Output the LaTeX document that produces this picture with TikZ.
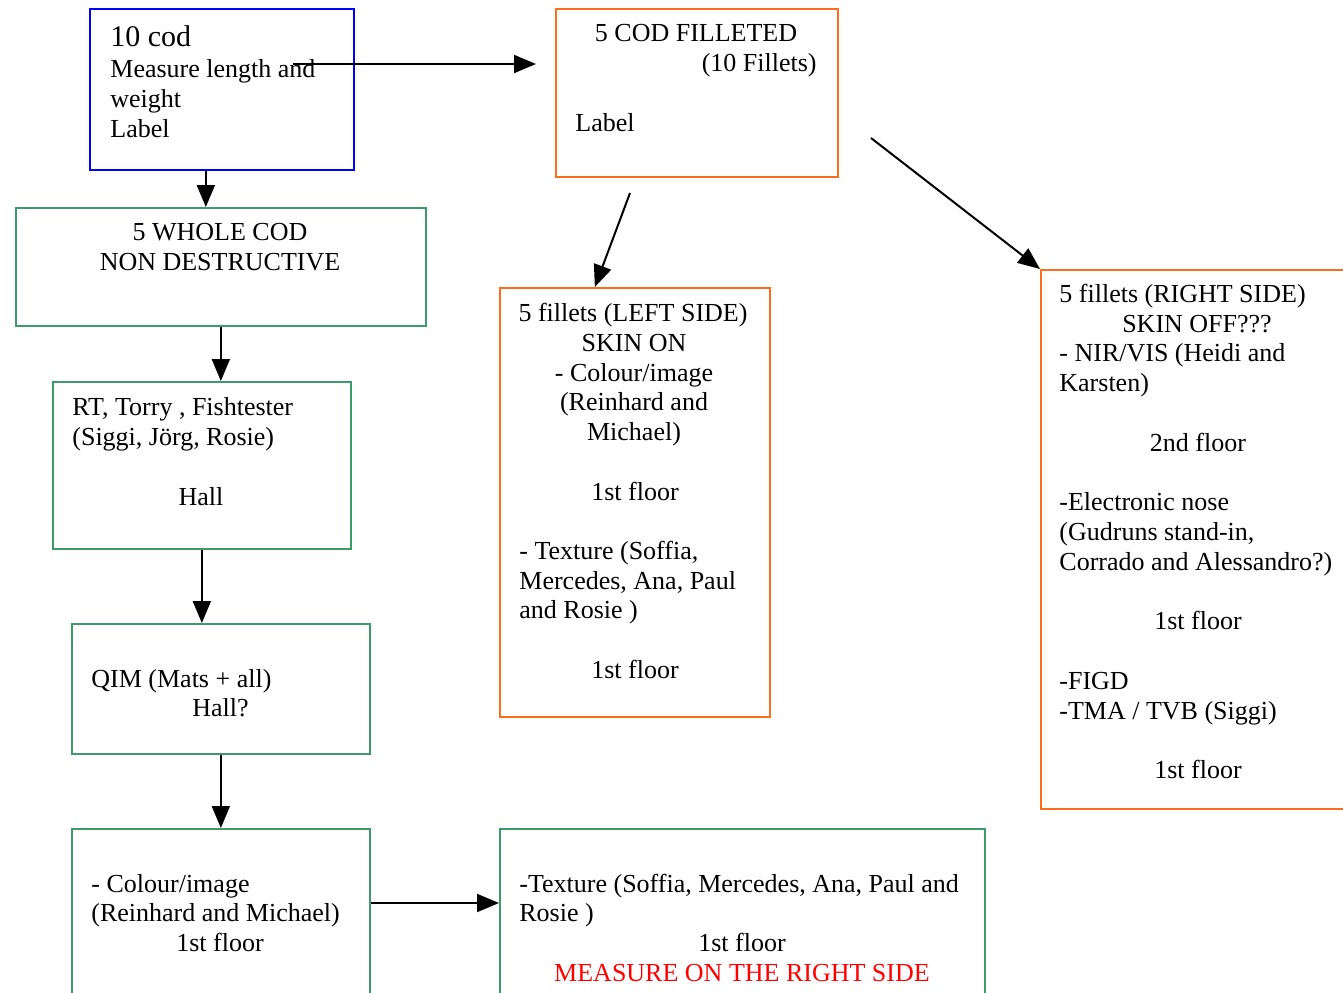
\documentclass[tikz,border=0pt]{standalone}
\usepackage{fontspec}
\setmainfont{Liberation Serif}
\usetikzlibrary{arrows.meta,calc}
\definecolor{boxblue}{RGB}{0,0,255}
\definecolor{boxorange}{RGB}{250,110,30}
\definecolor{boxgreen}{RGB}{60,155,105}
\definecolor{txtred}{RGB}{255,0,0}
\tikzset{
  box/.style={draw, line width=0.85pt, inner sep=0pt, anchor=north west},
  arr/.style={line width=1pt, -{Triangle[length=11pt,width=9pt]}},
  tl/.style={inner sep=0pt, anchor=base west, font=\fontsize{13}{15}\selectfont},
  tc/.style={inner sep=0pt, anchor=base, font=\fontsize{13}{15}\selectfont},
  tr/.style={inner sep=0pt, anchor=base east, font=\fontsize{13}{15}\selectfont}
}
\begin{document}
\begin{tikzpicture}[x=0.5pt,y=-0.5pt]
\useasboundingbox[fill=white] (0,0) rectangle (1343,992);
\clip (0,0) rectangle (1343,992);
% boxes
\node[box, draw=boxblue, minimum width=132pt, minimum height=80.5pt] (a) at (89,8) {};
\node[box, draw=boxorange, minimum width=141pt, minimum height=84pt] (b) at (555,8) {};
\node[box, draw=boxgreen, minimum width=205pt, minimum height=59pt] (c) at (15,207) {};
\node[box, draw=boxorange, minimum width=135pt, minimum height=214.5pt] (d) at (499,287) {};
\node[box, draw=boxorange, minimum width=160pt, minimum height=269.5pt] (e) at (1040,269) {};
\node[box, draw=boxgreen, minimum width=149pt, minimum height=83.5pt] (f) at (52,381) {};
\node[box, draw=boxgreen, minimum width=149pt, minimum height=65pt] (g) at (71,623) {};
\node[box, draw=boxgreen, minimum width=149pt, minimum height=90pt] (h) at (71,828) {};
\node[box, draw=boxgreen, minimum width=242.5pt, minimum height=90pt] (i) at (499,828) {};
% texts A
\node[tl, font=\fontsize{15}{17}\selectfont] (a1) at (110,46) {10 cod};
\node[tl] (a2) at (110,77) {Measure length and};
\node[tl] (a3) at (110,107) {weight};
\node[tl] (a4) at (110,137) {Label};
% texts B
\node[tc] (b1) at (696,41) {5 COD FILLETED};
\node[tr] (b2) at (817,71) {(10 Fillets)};
\node[tl] (b3) at (575,131) {Label};
% texts C
\node[tc] (c1) at (220,240) {5 WHOLE COD};
\node[tc] (c2) at (220,270) {NON DESTRUCTIVE};
% texts D
\node[tc] (d1) at (633,321) {5 fillets (LEFT SIDE)};
\node[tc] (d2) at (634,351) {SKIN ON};
\node[tc] (d3) at (634,381) {- Colour/image};
\node[tc] (d4) at (634,410) {(Reinhard and};
\node[tc] (d5) at (634,440) {Michael)};
\node[tc] (d6) at (635,500) {1st floor};
\node[tl] (d7) at (519,559) {- Texture (Soffia,};
\node[tl] (d8) at (519,589) {Mercedes, Ana, Paul};
\node[tl] (d9) at (519,618) {and Rosie )};
\node[tc] (d10) at (635,678) {1st floor};
% texts E
\node[tl] (e1) at (1059,302) {5 fillets (RIGHT SIDE)};
\node[tc] (e2) at (1197,332) {SKIN OFF???};
\node[tl] (e3) at (1059,361) {- NIR/VIS (Heidi and};
\node[tl] (e4) at (1059,391) {Karsten)};
\node[tc] (e5) at (1198,451) {2nd floor};
\node[tl] (e6) at (1059,510) {-Electronic nose};
\node[tl] (e7) at (1059,540) {(Gudruns stand-in,};
\node[tl] (e8) at (1059,570) {Corrado and Alessandro?)};
\node[tc] (e9) at (1198,629) {1st floor};
\node[tl] (e10) at (1059,689) {-FIGD};
\node[tl] (e11) at (1059,719) {-TMA / TVB (Siggi)};
\node[tc] (e12) at (1198,778) {1st floor};
% texts F
\node[tl] (f1) at (72,415) {RT, Torry , Fishtester};
\node[tl] (f2) at (72,445) {(Siggi, Jörg, Rosie)};
\node[tc] (f3) at (201,505) {Hall};
% texts G
\node[tl] (g1) at (91,687) {QIM (Mats + all)};
\node[tl] (g2) at (192,716) {Hall?};
% texts H
\node[tl] (h1) at (91,892) {- Colour/image};
\node[tl] (h2) at (91,921) {(Reinhard and Michael)};
\node[tc] (h3) at (220,951) {1st floor};
% texts I
\node[tl] (i1) at (519,892) {-Texture (Soffia, Mercedes, Ana, Paul and};
\node[tl] (i2) at (519,921) {Rosie )};
\node[tc] (i3) at (742,951) {1st floor};
\node[tc, text=txtred] (i4) at (742,981) {MEASURE ON THE RIGHT SIDE};
% free ends
\coordinate (ab0) at (293,64);
\coordinate (ab1) at (536,64);
\coordinate (bd0) at (630,193);
\coordinate (be0) at (871,138);
% connectors
\draw[arr] (ab0) -- (ab1);
\draw[arr] ($(a.south)+(-16,0)$) -- ($(c.north)+(-15,0)$);
\draw[arr] (c.south) -- (c.south |- f.north);
\draw[arr] (f.south) -- (f.south |- g.north);
\draw[arr] (g.south) -- (h.north);
\draw[arr] ($(h.north east)+(0,75)$) -- ($(i.north west)+(0,75)$);
\draw[arr] (bd0) -- ($(d.north)+(-40,0)$);
\draw[arr] (be0) -- (e.north west);
\end{tikzpicture}
\end{document}
